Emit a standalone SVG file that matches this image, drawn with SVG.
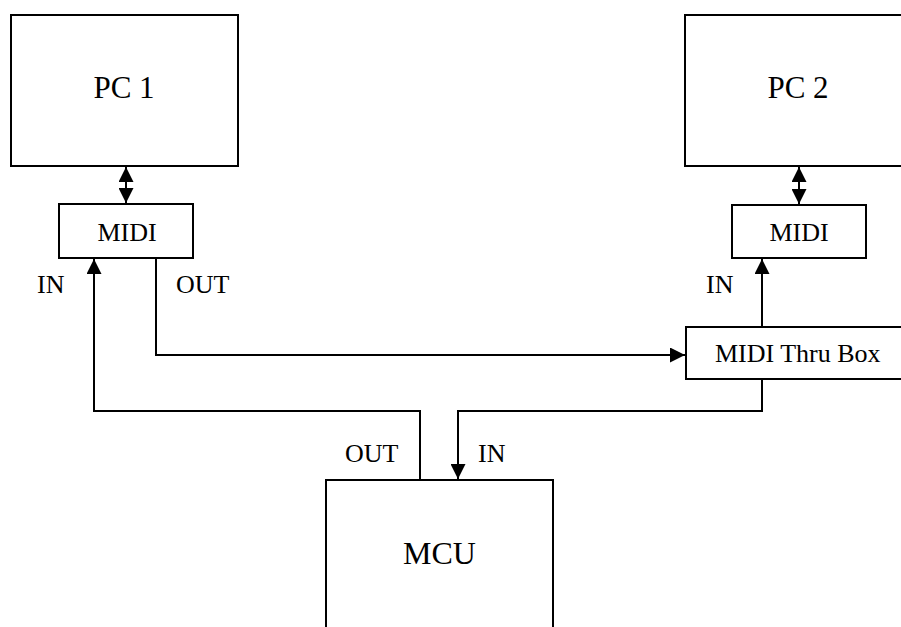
<svg xmlns="http://www.w3.org/2000/svg" width="901" height="627" viewBox="0 0 901 627">
<style>
.box{fill:#fff;stroke:#000;stroke-width:2}
.ln{fill:none;stroke:#000;stroke-width:2}
text{font-family:"Liberation Serif","Times New Roman",serif;fill:#000}
.big{font-size:31px}
.sm{font-size:26px}
</style>
<defs>
<marker id="ah2" viewBox="0 0 10 10" refX="10" refY="5" markerWidth="7.5" markerHeight="7.5" orient="auto-start-reverse">
<path d="M0,0 L10,5 L0,10 z" fill="#000"/>
</marker>
</defs>
<rect width="901" height="627" fill="#fff"/>
<g id="connectors">
<line class="ln" x1="126" y1="167" x2="126" y2="203" marker-start="url(#ah2)" marker-end="url(#ah2)"/>
<line class="ln" x1="799" y1="167" x2="799" y2="204" marker-start="url(#ah2)" marker-end="url(#ah2)"/>
<polyline class="ln" points="420,480 420,411 94,411 94,259" marker-end="url(#ah2)"/>
<polyline class="ln" points="156,258 156,355 685,355" marker-end="url(#ah2)"/>
<line class="ln" x1="762" y1="327" x2="762" y2="259" marker-end="url(#ah2)"/>
<polyline class="ln" points="762,379 762,411 458,411 458,479" marker-end="url(#ah2)"/>
</g>
<g id="pc1"><rect class="box" x="11" y="15" width="227" height="151"/><text class="big" x="124" y="98" text-anchor="middle">PC 1</text></g>
<g id="pc2"><rect class="box" x="685" y="15" width="240" height="151"/><text class="big" x="798" y="98" text-anchor="middle">PC 2</text></g>
<g id="midi1"><rect class="box" x="59" y="204" width="134" height="54"/><text class="sm" x="127" y="241" text-anchor="middle">MIDI</text></g>
<g id="midi2"><rect class="box" x="732" y="205" width="134" height="53"/><text class="sm" x="799" y="241" text-anchor="middle">MIDI</text></g>
<g id="thru"><rect class="box" x="686" y="327" width="240" height="52"/><text class="sm" x="715" y="362">MIDI Thru Box</text></g>
<g id="mcu"><rect class="box" x="326" y="480" width="227" height="170"/><text class="big" x="439.5" y="564" text-anchor="middle" style="font-size:32px">MCU</text></g>
<g id="labels">
<text class="sm" x="37" y="293">IN</text>
<text class="sm" x="176" y="293">OUT</text>
<text class="sm" x="706" y="293">IN</text>
<text class="sm" x="345" y="462">OUT</text>
<text class="sm" x="478" y="462">IN</text>
</g>
</svg>
